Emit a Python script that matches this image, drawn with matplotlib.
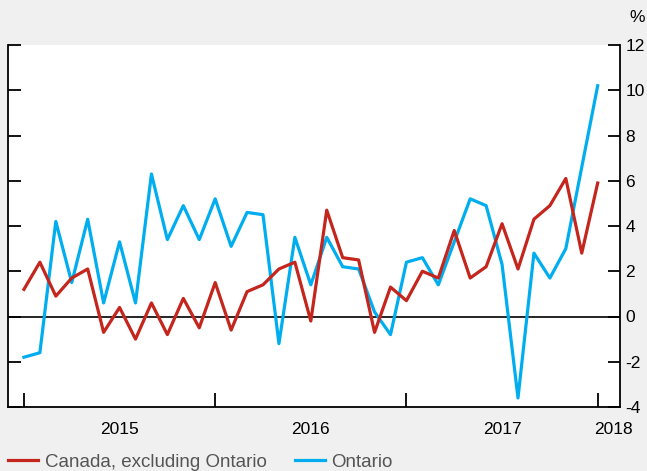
import numpy as np
import matplotlib
matplotlib.use('Agg')
import matplotlib.pyplot as plt

# monthly, Jan 2015 .. Jan 2018
canada_ex_ontario = [1.2, 2.4, 0.9, 1.7, 2.1, -0.7, 0.4, -1.0, 0.6, -0.8, 0.8, -0.5,
                     1.5, -0.6, 1.1, 1.4, 2.1, 2.4, -0.2, 4.7, 2.6, 2.5, -0.7, 1.3,
                     0.7, 2.0, 1.7, 3.8, 1.7, 2.2, 4.1, 2.1, 4.3, 4.9, 6.1, 2.8,
                     5.9]
ontario = [-1.8, -1.6, 4.2, 1.5, 4.3, 0.6, 3.3, 0.6, 6.3, 3.4, 4.9, 3.4,
           5.2, 3.1, 4.6, 4.5, -1.2, 3.5, 1.4, 3.5, 2.2, 2.1, 0.2, -0.8,
           2.4, 2.6, 1.4, 3.3, 5.2, 4.9, 2.3, -3.6, 2.8, 1.7, 3.0, 6.6,
           10.2]
year_labels = ['2015', '2016', '2017', '2018']
year_label_pos = [6, 18, 30, 37]
year_ticks = [0, 12, 24, 36]
y_ticks = [-4, -2, 0, 2, 4, 6, 8, 10, 12]

plt.rcParams['font.family'] = ['Liberation Sans', 'DejaVu Sans']
plt.rcParams['font.size'] = 12.5

RED = '#c4261d'
BLUE = '#00aeef'

fig = plt.figure(figsize=(6.47, 4.71), dpi=100)
fig.patch.set_facecolor('#f0f0f0')
ax = fig.add_axes([8 / 647, 1 - 407 / 471, 612 / 647, 362 / 471])
ax.set_facecolor('white')

x = np.arange(len(ontario))
ax.axhline(0, color='black', lw=1.2, zorder=1)
l1, = ax.plot(x, canada_ex_ontario, color=RED, lw=2.3, zorder=3, label='Canada, excluding Ontario')
l2, = ax.plot(x, ontario, color=BLUE, lw=2.3, zorder=2, label='Ontario')

ax.set_xlim(-1, 37.4)
ax.set_ylim(-4, 12)

ax.spines['top'].set_visible(False)
for s in ['left', 'right', 'bottom']:
    ax.spines[s].set_linewidth(1.3)
    ax.spines[s].set_color('black')

ax.set_yticks(y_ticks)
ax.set_yticklabels([str(v) for v in y_ticks])
ax.tick_params(axis='y', direction='in', length=9, width=1.3,
               left=True, right=True, labelleft=False, labelright=True, pad=4)

ax.set_xticks(year_ticks)
ax.set_xticklabels([])
ax.tick_params(axis='x', which='major', direction='in', length=10, width=1.3)
ax.set_xticks(year_label_pos, minor=True)
ax.set_xticklabels(year_labels, minor=True)
ax.tick_params(axis='x', which='minor', length=0, pad=11)

fig.text(0.996, 0.962, '%', ha='right', va='center', fontsize=12.5)

leg = fig.legend(handles=[l1, l2], loc='center left', bbox_to_anchor=(8 / 647, 9 / 471),
                 ncol=2, frameon=False, borderpad=0, borderaxespad=0,
                 handlelength=1.6, handletextpad=0.35, columnspacing=1.5, fontsize=13.5)
for t in leg.get_texts():
    t.set_color('#555555')

fig.savefig('out.png', dpi=100, facecolor=fig.get_facecolor())
